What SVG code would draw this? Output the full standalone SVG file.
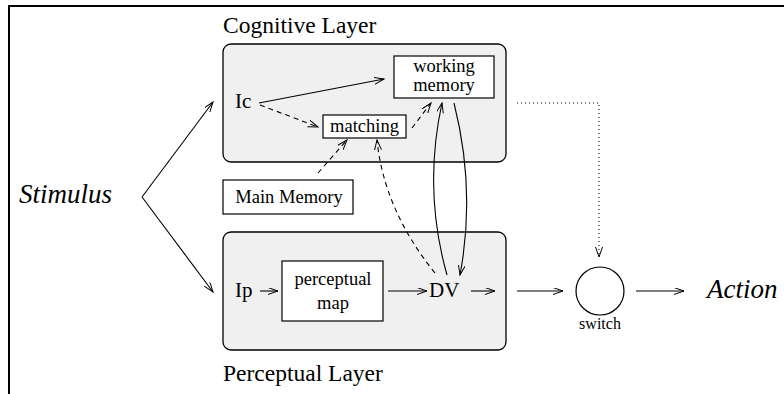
<svg xmlns="http://www.w3.org/2000/svg" width="784" height="394" viewBox="0 0 784 394">
<defs>
<marker id="arr" markerUnits="userSpaceOnUse" markerWidth="12" markerHeight="8" refX="10" refY="3.5" orient="auto">
<path d="M0,0 L10,3.5 L0,7" fill="none" stroke="#000" stroke-width="1"/>
</marker>
</defs>
<style>
.t{fill:#000}
.it{font-style:italic;fill:#000}
.layer{fill:#f0f0f0;stroke:#000;stroke-width:1.3}
.box{fill:#fff;stroke:#000;stroke-width:1.2}
.c{fill:none;stroke:#000;stroke-width:1.1}
.d{stroke-dasharray:5,4}
.dot{stroke-dasharray:1,3}
.a{marker-end:url(#arr)}
.bt{font-size:18.5px}
.lbl{font-size:21px}
.ttl{font-size:23.5px}
</style>
<g font-family="Liberation Serif, Times New Roman, DejaVu Serif, serif">
<g id="frame">
<line x1="8" y1="6" x2="784" y2="6" stroke="#000" stroke-width="2"/>
<line x1="9" y1="5" x2="9" y2="394" stroke="#000" stroke-width="2"/>
</g>
<g id="cognitive-layer">
<rect class="layer" x="223" y="44" width="283" height="118" rx="8"/>
<text class="t ttl" x="223" y="33">Cognitive Layer</text>
</g>
<g id="perceptual-layer">
<rect class="layer" x="223" y="232" width="283" height="118" rx="8"/>
<text class="t ttl" x="223" y="381">Perceptual Layer</text>
</g>
<g id="stimulus"><text class="it" x="19" y="203" font-size="27">Stimulus</text></g>
<g id="action"><text class="it" x="707" y="298" font-size="27">Action</text></g>
<g id="ic"><text class="t lbl" x="235" y="108">Ic</text></g>
<g id="ip"><text class="t lbl" x="235" y="297">Ip</text></g>
<g id="dv"><text class="t lbl" x="429" y="297">DV</text></g>
<g id="working-memory">
<rect class="box" x="394" y="56" width="100" height="42"/>
<text class="t bt" x="444" y="72" text-anchor="middle">working</text>
<text class="t bt" x="444" y="91" text-anchor="middle">memory</text>
</g>
<g id="matching">
<rect class="box" x="323" y="115" width="83" height="23"/>
<text class="t bt" x="364.5" y="132" text-anchor="middle">matching</text>
</g>
<g id="main-memory">
<rect class="box" x="223" y="180" width="130" height="34"/>
<text class="t bt" x="289" y="203" text-anchor="middle">Main Memory</text>
</g>
<g id="perceptual-map">
<rect class="box" x="282" y="261" width="101" height="60"/>
<text class="t bt" x="333" y="285" text-anchor="middle">perceptual</text>
<text class="t bt" x="333" y="309" text-anchor="middle">map</text>
</g>
<g id="switch">
<circle cx="600" cy="291" r="24" fill="#fff" stroke="#000" stroke-width="1.2"/>
<text class="t" x="600" y="329" font-size="16" text-anchor="middle">switch</text>
</g>
<g id="connectors">
<path class="c a" d="M142,197 L213,102"/>
<path class="c a" d="M142,197 L213,292"/>
<path class="c a" d="M259,103 L384,79"/>
<path class="c d a" d="M260,105 L318,127"/>
<path class="c d a" d="M412,128 L431,103"/>
<path class="c d a" d="M318,173 L347,140"/>
<path class="c d a" d="M435,273 Q384,210 377,140"/>
<path class="c a" d="M447,275 Q423,190 442,103"/>
<path class="c a" d="M454,103 Q476,190 460,275"/>
<path class="c a" d="M260,291 L278,291"/>
<path class="c a" d="M388,291 L427,291"/>
<path class="c a" d="M471,291 L495,291"/>
<path class="c a" d="M517,291 L563,291"/>
<path class="c a" d="M636,291 L684,291"/>
<path class="c dot a" d="M517,103 L599,103 L599,257"/>
</g>
</g>
</svg>
